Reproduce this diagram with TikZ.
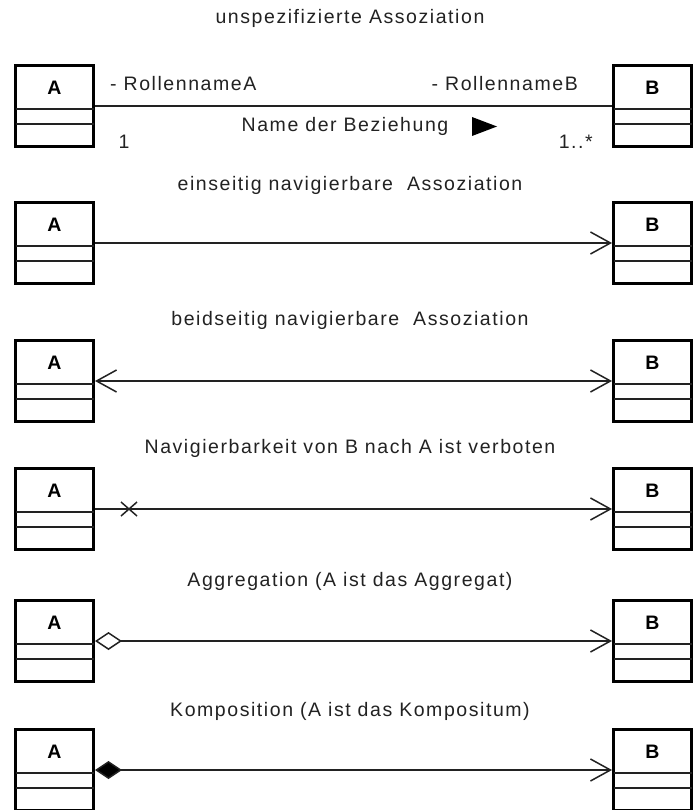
\documentclass[tikz,border=0pt]{standalone}
\usepackage{fontspec}
\setmainfont[LetterSpace=8]{Liberation Sans}
\usetikzlibrary{arrows.meta,calc}
\definecolor{ink}{HTML}{222222}
\tikzset{
  umlbox/.style={draw=black, line width=3pt, rectangle, minimum width=78pt, minimum height=81pt, inner sep=0pt},
  divider/.style={draw=ink, line width=1.5pt},
  assoc/.style={draw=ink, line width=1.5pt},
  lbl/.style={font=\fontsize{19.5}{22}\selectfont, text=ink, inner sep=0pt},
  clsname/.style={font=\fontsize{19.5}{22}\selectfont\bfseries, text=black, inner sep=0pt},
  openhead/.style={-{Straight Barb[length=20pt, width=22pt, line width=1.5pt]}},
}
\newcommand{\umlclass}[4]{% name, center x, top y, label
  \node[umlbox] (#1) at (#2, #3+42) {};
  \node[clsname] (#1t) at ($(#1.north)+(0,23.5)$) {#4};
  \draw[divider] ($(#1.north west)+(1.5,45)$) -- ($(#1.north east)+(-1.5,45)$);
  \draw[divider] ($(#1.north west)+(1.5,60)$) -- ($(#1.north east)+(-1.5,60)$);
}
\begin{document}
\begin{tikzpicture}[x=1pt, y=-1pt]
\clip (0,0) rectangle (700,810);
\fill[white] (0,0) rectangle (700,810);

% Row 1
\node[lbl] (t1) at (350,18) {unspezifizierte Assoziation};
\umlclass{a1}{54.5}{64}{A}
\umlclass{b1}{652.5}{64}{B}
\draw[assoc] (a1.east) -- (b1.west);
\node[lbl, anchor=west] (ra) at (110,84) {- RollennameA};
\node[lbl, anchor=east] (rb) at (578,84) {- RollennameB};
\node[lbl] (nb) at (345,126) {Name der Beziehung};
\fill[black] (472,117) -- (497,126.5) -- (472,136) -- cycle;
\node[lbl] (m1) at (124,142) {1};
\node[lbl, anchor=east] (m2) at (593,142) {1..*};

% Row 2
\node[lbl] (t2) at (350,185) {einseitig navigierbare\ \ Assoziation};
\umlclass{a2}{54.5}{201}{A}
\umlclass{b2}{652.5}{201}{B}
\draw[assoc, openhead] (a2.east) -- (b2.west);

% Row 3
\node[lbl] (t3) at (350,320) {beidseitig navigierbare\ \ Assoziation};
\umlclass{a3}{54.5}{339}{A}
\umlclass{b3}{652.5}{339}{B}
\draw[assoc, {Straight Barb[length=20pt, width=22pt, line width=1.5pt]}-{Straight Barb[length=20pt, width=22pt, line width=1.5pt]}] (a3.east) -- (b3.west);

% Row 4
\node[lbl] (t4) at (350,448) {Navigierbarkeit von B nach A ist verboten};
\umlclass{a4}{54.5}{467}{A}
\umlclass{b4}{652.5}{467}{B}
\draw[assoc, openhead] (a4.east) -- (b4.west);
\coordinate (x4) at ($(a4.east)+(34,0)$);
\draw[assoc] ($(x4)+(-8,-7)$) -- ($(x4)+(8,7)$);
\draw[assoc] ($(x4)+(-8,7)$) -- ($(x4)+(8,-7)$);

% Row 5
\node[lbl] (t5) at (350,581) {Aggregation (A ist das Aggregat)};
\umlclass{a5}{54.5}{599}{A}
\umlclass{b5}{652.5}{599}{B}
\draw[assoc, {Diamond[open, length=27pt, width=18pt, line width=1.5pt, fill=white]}-{Straight Barb[length=20pt, width=22pt, line width=1.5pt]}] (a5.east) -- (b5.west);

% Row 6
\node[lbl] (t6) at (350,711) {Komposition (A ist das Kompositum)};
\umlclass{a6}{54.5}{728}{A}
\umlclass{b6}{652.5}{728}{B}
\draw[assoc, {Diamond[length=27pt, width=18pt, line width=1.5pt, fill=black]}-{Straight Barb[length=20pt, width=22pt, line width=1.5pt]}] (a6.east) -- (b6.west);
\end{tikzpicture}
\end{document}
